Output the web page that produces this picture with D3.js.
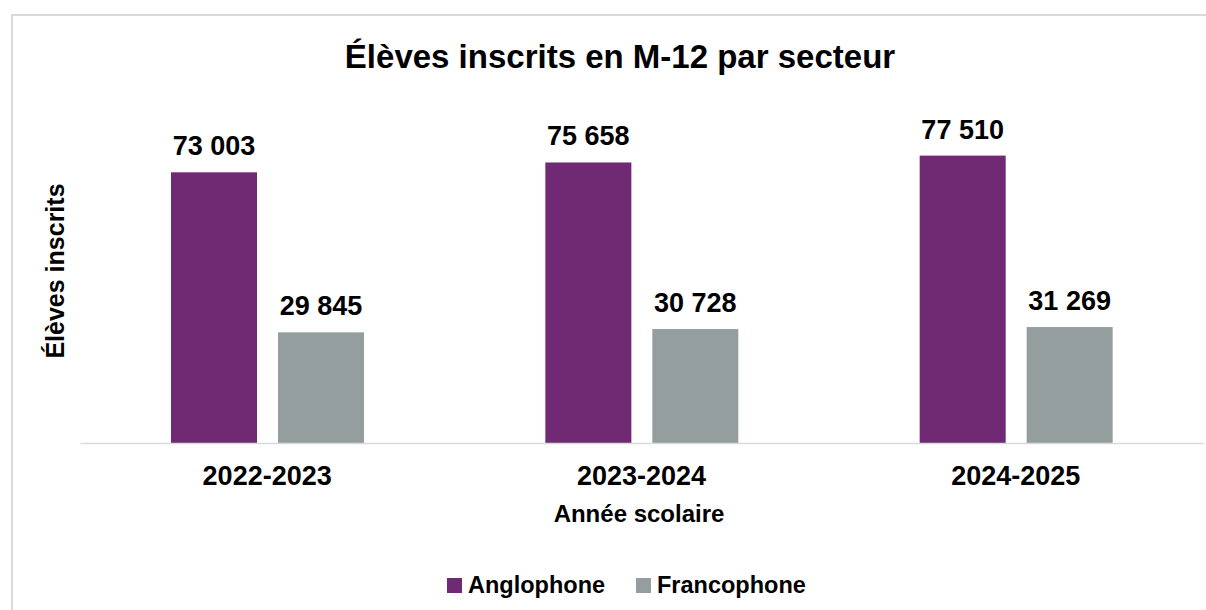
<!DOCTYPE html>
<html>
<head>
<meta charset="utf-8">
<script src="https://cdn.jsdelivr.net/npm/d3@7"></script>
<style>
  body { margin: 0; background: #fff; }
  text { font-family: "Liberation Sans", Arial, sans-serif; font-weight: bold; fill: #000; }
</style>
</head>
<body>
<div id="chart"></div>
<script>
// Data
var years = ["2022-2023", "2023-2024", "2024-2025"];
var series = ["Anglophone", "Francophone"];
var anglophone = [73003, 75658, 77510];
var francophone = [29845, 30728, 31269];
var colors = ["#702A73", "#949E9E"];

var svgWidth = 1206;
var svgHeight = 610;

var svg = d3.select("#chart")
    .append("svg")
    .attr("width", svgWidth)
    .attr("height", svgHeight);

// chart border
svg.append("rect")
    .attr("x", 12)
    .attr("y", 15)
    .attr("width", 1210)
    .attr("height", 620)
    .attr("fill", "none")
    .attr("stroke", "#d9d9d9")
    .attr("stroke-width", 2);

// Title
svg.append("text")
    .attr("x", 620)
    .attr("y", 68)
    .attr("text-anchor", "middle")
    .style("font-size", "33px")
    .text("Élèves inscrits en M-12 par secteur");

var baseY = 443;

// Scales
var xScale = d3.scaleBand()
    .domain(years)
    .range([80, 1203])
    .paddingInner(0)
    .paddingOuter(0);

var xSub = d3.scaleBand()
    .domain(series)
    .range([91, 284])
    .paddingInner(0.196);

var yScale = d3.scaleLinear()
    .domain([0, 90000])
    .range([baseY, baseY - 333.7]);

var rows = years.map(function (y, i) {
    return { year: y, values: [anglophone[i], francophone[i]] };
});

var fmt = function (v) {
    return d3.format(",")(v).replace(/,/g, " ");
};

// Bars
var groups = svg.selectAll(".grp")
    .data(rows)
    .enter()
    .append("g")
    .attr("class", "grp")
    .attr("transform", d => `translate(${xScale(d.year)}, 0)`);

groups.selectAll("rect")
    .data(d => d.values.map((v, j) => ({ key: series[j], value: v, idx: j })))
    .enter()
    .append("rect")
    .attr("x", d => xSub(d.key))
    .attr("y", d => yScale(d.value))
    .attr("width", xSub.bandwidth())
    .attr("height", d => baseY - yScale(d.value))
    .attr("fill", d => colors[d.idx]);

groups.selectAll(".val")
    .data(d => d.values.map((v, j) => ({ key: series[j], value: v })))
    .enter()
    .append("text")
    .attr("class", "val")
    .attr("x", d => xSub(d.key) + xSub.bandwidth() / 2)
    .attr("y", d => yScale(d.value) - 17)
    .attr("text-anchor", "middle")
    .style("font-size", "27px")
    .text(d => fmt(d.value));

// X axis
var xAxis = svg.append("g")
    .attr("transform", "translate(0, " + baseY + ")")
    .call(d3.axisBottom(xScale).tickSize(0).tickSizeOuter(0));

xAxis.select(".domain")
    .attr("stroke", "#d9d9d9")
    .attr("stroke-width", 1.5);

xAxis.selectAll(".tick text")
    .attr("y", 42)
    .attr("dy", null)
    .attr("fill", "#000")
    .style("font-family", "'Liberation Sans', Arial, sans-serif")
    .style("font-weight", "bold")
    .style("font-size", "27px");

// Axis titles
svg.append("text")
    .attr("x", 639)
    .attr("y", 522)
    .attr("text-anchor", "middle")
    .style("font-size", "24px")
    .text("Année scolaire");

svg.append("text")
    .attr("transform", "translate(64, 271) rotate(-90)")
    .attr("text-anchor", "middle")
    .style("font-size", "25px")
    .text("Élèves inscrits");

// Legend
var legendX = [447, 636];
var legend = svg.selectAll(".legend")
    .data(series)
    .enter()
    .append("g")
    .attr("class", "legend")
    .attr("transform", (d, i) => `translate(${legendX[i]}, 578)`);

legend.append("rect")
    .attr("width", 15)
    .attr("height", 15)
    .attr("fill", (d, i) => colors[i]);

legend.append("text")
    .attr("x", 21)
    .attr("y", 15)
    .style("font-size", "23.5px")
    .text(d => d);
</script>
</body>
</html>
